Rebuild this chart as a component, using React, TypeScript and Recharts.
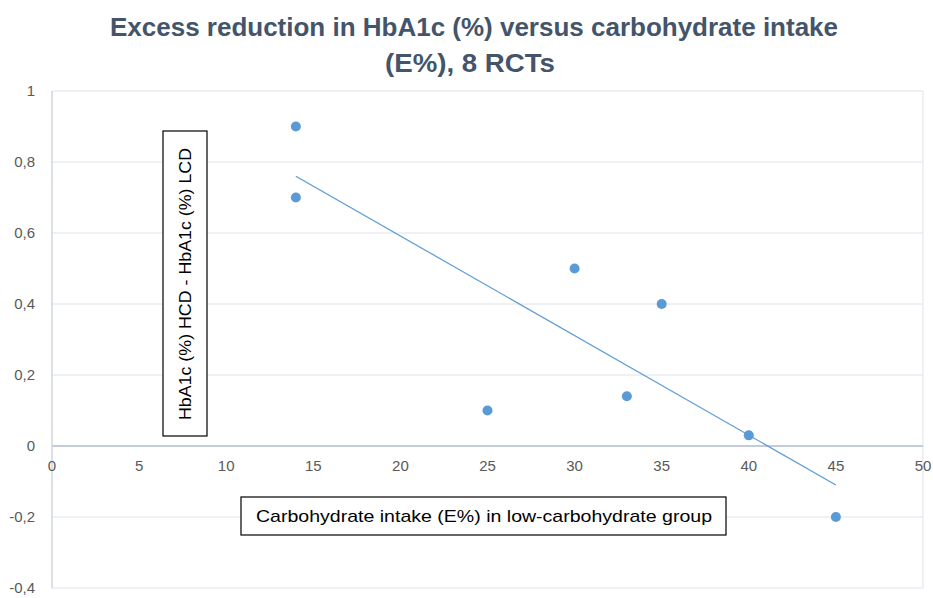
import {
  ScatterChart,
  Scatter,
  XAxis,
  YAxis,
  CartesianGrid,
  ReferenceLine,
  ReferenceDot,
} from "recharts";

const carbIntake = [14, 14, 25, 30, 33, 35, 40, 45];
const hba1cDiff = [0.9, 0.7, 0.1, 0.5, 0.14, 0.4, 0.03, -0.2];

const trendX = [14, 45];
const trendY = [0.76, -0.11];

const xTicks = [0, 5, 10, 15, 20, 25, 30, 35, 40, 45, 50];
const yTicks = [-0.4, -0.2, 0, 0.2, 0.4, 0.6, 0.8, 1];

const titleLines = [
  "Excess reduction  in HbA1c (%) versus carbohydrate  intake",
  "(E%), 8 RCTs",
];
const yLabel = "HbA1c (%) HCD - HbA1c (%) LCD";
const xLabel = "Carbohydrate intake (E%) in low-carbohydrate group";

const points = carbIntake.map((x, i) => ({ x, y: hba1cDiff[i] }));
const trend = trendX.map((x, i) => ({ x, y: trendY[i] }));

const BLUE = "#5b9bd5";
const TICK = "#595959";
const FONT = "'Liberation Sans', Arial, sans-serif";

export default function App() {
  return (
    <div
      style={{
        position: "absolute",
        left: 0,
        top: 0,
        width: 933,
        height: 598,
        background: "#fff",
      }}
    >
      <ScatterChart
        width={933}
        height={598}
        margin={{ top: 91, right: 10, bottom: 10, left: 0 }}
      >
        <CartesianGrid stroke='#dde2ea' strokeWidth={1} />
        <XAxis
          type='number'
          dataKey='x'
          domain={[0, 50]}
          ticks={xTicks}
          interval={0}
          tick={false}
          tickLine={false}
          axisLine={false}
          height={0}
        />
        <YAxis
          type='number'
          dataKey='y'
          domain={[-0.4, 1]}
          ticks={yTicks}
          interval={0}
          width={52}
          tickLine={false}
          tickSize={0}
          tickMargin={17}
          axisLine={{ stroke: "#c9d1dd" }}
          tick={{ fill: TICK, fontSize: 15, fontFamily: FONT }}
          tickFormatter={(v: number) => String(v).replace(".", ",")}
        />
        <ReferenceLine y={0} stroke='#b4bfd1' strokeWidth={1.5} />
        {xTicks.map((t) => (
          <ReferenceDot
            key={t}
            x={t}
            y={0}
            r={0}
            fill='none'
            stroke='none'
            label={{
              value: String(t),
              position: "bottom",
              offset: 14,
              fill: TICK,
              fontSize: 15,
              fontFamily: FONT,
            }}
          />
        ))}
        <Scatter
          data={trend}
          line={{ stroke: BLUE, strokeWidth: 1.2 }}
          shape={() => <g />}
          legendType='none'
          isAnimationActive={false}
        />
        <Scatter
          data={points}
          fill={BLUE}
          shape={(p: any) => <circle cx={p.cx} cy={p.cy} r={5} fill={BLUE} />}
          isAnimationActive={false}
        />
      </ScatterChart>
      <svg
        width={933}
        height={598}
        style={{ position: "absolute", left: 0, top: 0, pointerEvents: "none" }}
      >
        <text
          x={474}
          y={36}
          textAnchor='middle'
          fontFamily="'Liberation Sans Narrow', 'Liberation Sans', sans-serif"
          fontWeight='bold'
          fontSize={25}
          fill='#44546a'
          textLength={728}
          lengthAdjust='spacingAndGlyphs'
        >
          {titleLines[0]}
        </text>
        <text
          x={470}
          y={72}
          textAnchor='middle'
          fontFamily="'Liberation Sans Narrow', 'Liberation Sans', sans-serif"
          fontWeight='bold'
          fontSize={25}
          fill='#44546a'
          textLength={170}
          lengthAdjust='spacingAndGlyphs'
        >
          {titleLines[1]}
        </text>
        <rect x={163} y={131} width={44} height={305} fill='#fff' stroke='#000' strokeWidth={1.2} />
        <text
          x={0}
          y={0}
          transform='translate(191,284) rotate(-90)'
          textAnchor='middle'
          fontFamily={FONT}
          fontSize={17}
          fill='#000'
          textLength={272}
          lengthAdjust='spacingAndGlyphs'
        >
          {yLabel}
        </text>
        <rect x={241} y={497} width={485} height={38} fill='#fff' stroke='#000' strokeWidth={1.2} />
        <text
          x={484}
          y={522}
          textAnchor='middle'
          fontFamily={FONT}
          fontSize={17}
          fill='#000'
          textLength={456}
          lengthAdjust='spacingAndGlyphs'
        >
          {xLabel}
        </text>
      </svg>
    </div>
  );
}
